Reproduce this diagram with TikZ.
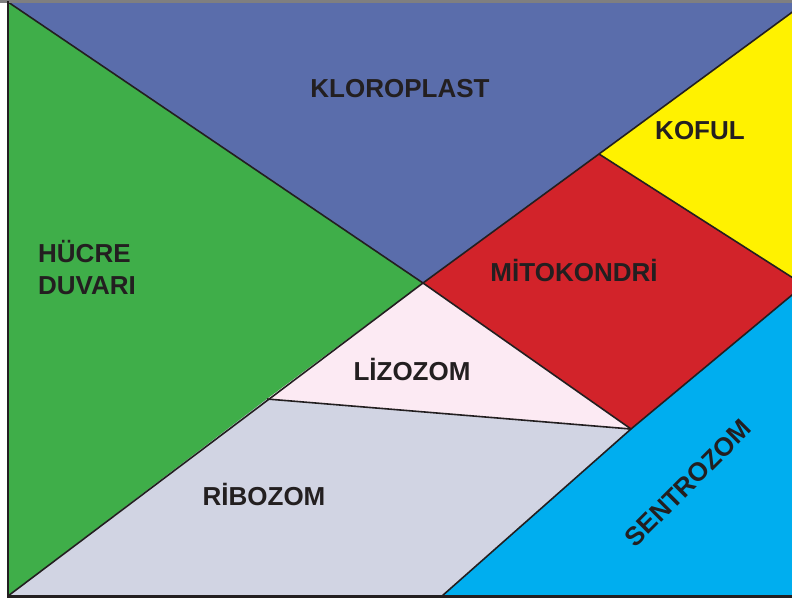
\documentclass[tikz,border=0pt]{standalone}
\usepackage{fontspec}
\setmainfont{Liberation Sans}
\definecolor{inkc}{HTML}{231F20}
\definecolor{klorc}{HTML}{5A6DAB}
\definecolor{greenc}{HTML}{3FAE49}
\definecolor{yellowc}{HTML}{FFF200}
\definecolor{redc}{HTML}{D2232A}
\definecolor{lizc}{HTML}{FCEAF3}
\definecolor{ribc}{HTML}{D1D4E3}
\definecolor{cyanc}{HTML}{00AEEF}
\definecolor{topc}{HTML}{7F7F80}
\tikzset{
  seam/.style={draw=inkc, line width=1.6pt, line join=round},
  lbl/.style={text=inkc, font=\fontsize{26}{32}\selectfont\bfseries, inner sep=0pt},
}
\begin{document}
\begin{tikzpicture}[x=1pt,y=-1pt]
\useasboundingbox (0,0) rectangle (792,600);
\coordinate (TL) at (8,2);
\coordinate (BL) at (8,596);
\coordinate (C) at (423,283);
\coordinate (K) at (599,154);
\coordinate (E) at (806,2);
\coordinate (R) at (804,285);
\coordinate (L2) at (631,429);
\coordinate (Lz) at (267,399);
\coordinate (B2) at (442,596);
\coordinate (FT) at (850,2);
\coordinate (FM) at (850,400);
\coordinate (FB) at (850,596);
\begin{scope}
\clip (8,2) rectangle (792,596);
\fill[white] (8,2) rectangle (792,596);
\fill[klorc] (TL) -- (E) -- (K) -- (C) -- cycle;
\fill[greenc] (TL) -- (C) -- (BL) -- cycle;
\fill[yellowc] (E) -- (FT) -- (FM) -- (R) -- (K) -- cycle;
\fill[redc] (C) -- (K) -- (R) -- (L2) -- cycle;
\fill[lizc] (C) -- (L2) -- (Lz) -- cycle;
\fill[ribc] (Lz) -- (L2) -- (B2) -- (BL) -- cycle;
\fill[cyanc] (L2) -- (R) -- (FM) -- (FB) -- (B2) -- cycle;
\draw[seam] (TL) -- (C) -- (BL);
\draw[seam] (C) -- (K) -- (E);
\draw[seam] (K) -- (R) -- (L2) -- (C);
\draw[seam] (Lz) -- (L2) -- (B2);
\end{scope}
\draw[topc, line width=2.2pt] (0,1.5) -- (792,1.5);
\draw[inkc, line width=2pt] (8,1) -- (8,597);
\draw[inkc, line width=2.6pt] (7,596.5) -- (792,596.5);
\node[lbl] (kl) at (400,89) {KLOROPLAST};
\node[lbl] (ko) at (700,131) {KOFUL};
\node[lbl, align=left, anchor=north west] (hd) at (38,240) {HÜCRE\\DUVARI};
\node[lbl] (mi) at (574,270) {MİTOKONDRİ};
\node[lbl] (li) at (412,369) {LİZOZOM};
\node[lbl] (ri) at (264,494) {RİBOZOM};
\node[lbl, rotate=45] (se) at (688,483) {SENTROZOM};
\end{tikzpicture}
\end{document}
